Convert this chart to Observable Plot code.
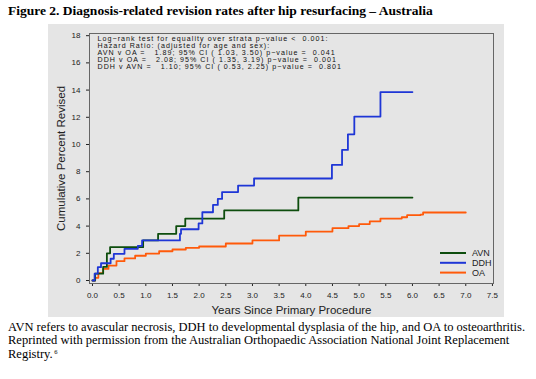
<!DOCTYPE html>
<html><head><meta charset="utf-8">
<script src="https://cdn.jsdelivr.net/npm/d3@7"></script>
<script src="https://cdn.jsdelivr.net/npm/@observablehq/plot@0.6"></script>
<style>
body{margin:0;background:#fff;}
#wrap{position:relative;width:536px;height:379px;overflow:hidden;background:#fff;}
#title{position:absolute;left:8px;top:3px;font:bold 13.5px "Liberation Serif","Times New Roman",serif;color:#000;white-space:nowrap;}
#panel{position:absolute;left:48px;top:24px;width:456px;height:293px;background:#e5e5e5;}
#caption{position:absolute;left:8px;top:321px;width:528px;font:12.5px/13.4px "Liberation Serif","Times New Roman",serif;color:#000;}
#caption sup{font-size:6.5px;line-height:0;vertical-align:baseline;position:relative;top:-0.55em;margin-left:1.5px;}
</style></head>
<body><div id="wrap">
<div id="title">Figure 2. Diagnosis-related revision rates after hip resurfacing – Australia</div>
<div id="panel"></div>
<div id="caption">AVN refers to avascular necrosis, DDH to developmental dysplasia of the hip, and OA to osteoarthritis. Reprinted with permission from the Australian Orthopaedic Association National Joint Replacement Registry.<sup>6</sup></div>
</div>
<script>
const seriesNames = ["AVN", "DDH", "OA"];
const seriesColors = ["#0d4d0d", "#1e36d6", "#ff5a0a"];
const avnYears = [0, 0.05, 0.2, 0.27, 0.33, 0.95, 1.23, 1.57, 1.74, 2.47, 3.86, 6.0];
const avnPct   = [0, 0.5, 1.0, 2.0, 2.45, 2.95, 3.43, 4.0, 4.55, 5.15, 6.1, 6.1];
const ddhYears = [0, 0.04, 0.1, 0.16, 0.34, 0.4, 0.6, 0.85, 0.93, 1.64, 1.66, 1.99, 2.06, 2.26, 2.35, 2.43, 2.73, 3.03, 4.49, 4.68, 4.79, 4.91, 5.4, 6.0];
const ddhPct   = [0, 0.5, 0.98, 1.27, 1.6, 1.96, 2.33, 2.55, 2.95, 3.43, 3.77, 4.2, 5.02, 5.56, 6.0, 6.5, 6.98, 7.5, 8.5, 9.6, 10.75, 12.05, 13.85, 13.85];
const oaYears  = [0, 0.05, 0.11, 0.2, 0.3, 0.45, 0.6, 0.8, 1.0, 1.25, 1.5, 1.75, 2.0, 2.5, 3.0, 3.5, 4.0, 4.5, 4.8, 5.0, 5.2, 5.4, 5.8, 5.9, 6.15, 6.2, 7.0];
const oaPct    = [0, 0.2, 0.55, 0.85, 1.1, 1.42, 1.62, 1.82, 1.98, 2.15, 2.28, 2.4, 2.5, 2.72, 2.95, 3.3, 3.6, 3.85, 4.0, 4.15, 4.35, 4.55, 4.65, 4.8, 4.85, 5.0, 5.0];
const xTicks = [0, 0.5, 1, 1.5, 2, 2.5, 3, 3.5, 4, 4.5, 5, 5.5, 6, 6.5, 7, 7.5];
const yTicks = [0, 2, 4, 6, 8, 10, 12, 14, 16, 18];
const statLines = [
  "Log\u2212rank test for equality over strata p\u2212value <  0.001:",
  "Hazard Ratio: (adjusted for age and sex):",
  "AVN v OA =   1.89; 95% CI ( 1.03, 3.50) p\u2212value =  0.041",
  "DDH v OA =   2.08; 95% CI ( 1.35, 3.19) p\u2212value =  0.001",
  "DDH v AVN =   1.10; 95% CI ( 0.53, 2.25) p\u2212value =  0.801"
];

const toRows = (name, xs, ys) => xs.map((t, i) => ({series: name, t, v: ys[i]}));
const avn = toRows("AVN", avnYears, avnPct);
const ddh = toRows("DDH", ddhYears, ddhPct);
const oa = toRows("OA", oaYears, oaPct);

const font = '"Liberation Sans", Arial, sans-serif';
const chart = Plot.plot({
  width: 456, height: 293,
  marginLeft: 41, marginRight: 11, marginTop: 9, marginBottom: 34,
  style: {background: "transparent", fontFamily: font, fontSize: "8px", color: "#222"},
  x: {domain: [-0.056, 7.52], ticks: xTicks, tickFormat: d3.format(".1f"), tickSize: 3, label: "Years Since Primary Procedure", labelAnchor: "center", labelArrow: "none", labelOffset: 30},
  y: {domain: [-0.22, 18.16], ticks: yTicks, tickSize: 3, label: "Cumulative Percent Revised", labelAnchor: "center", labelArrow: "none", labelOffset: 33},
  color: {domain: seriesNames, range: seriesColors},
  marks: [
    Plot.frame({stroke: "#666", strokeWidth: 1}),
    Plot.line(oa, {x: "t", y: "v", stroke: "series", strokeWidth: 1.8, curve: "step-after"}),
    Plot.line(avn, {x: "t", y: "v", stroke: "series", strokeWidth: 1.8, curve: "step-after"}),
    Plot.line(ddh, {x: "t", y: "v", stroke: "series", strokeWidth: 1.8, curve: "step-after"}),
    Plot.text(statLines, {frameAnchor: "top-left", dx: 4, lineAnchor: "top", textAnchor: "start", fontSize: 7.1, fill: "#111"})
  ]
});
chart.style.position = "absolute";
chart.style.left = "0px"; chart.style.top = "0px";
document.getElementById("panel").appendChild(chart);

const svg = d3.select(chart);
svg.selectAll("[aria-label='x-axis label'] text, [aria-label='y-axis label'] text").style("font-size", "11.5px");
// stack the statistics lines tightly, as in the SAS output
svg.selectAll("[aria-label='text'] text").each(function(d, i) {
  d3.select(this).attr("dy", null).attr("transform", null)
    .attr("x", 45).attr("y", 14.5 + i * 7.0).attr("dominant-baseline", "middle")
    .style("white-space", "pre").style("letter-spacing", "1.05px");
});

// legend inside plot (bottom-right), using the color scale
const cs = chart.scale("color");
const lg = svg.append("g").attr("font-family", font).attr("font-size", 9).attr("text-anchor", "start");
seriesNames.forEach((s, i) => {
  const y = 229 + i * 9.8;
  lg.append("line").attr("x1", 392).attr("x2", 418).attr("y1", y).attr("y2", y).attr("stroke", cs.apply(s)).attr("stroke-width", 2);
  lg.append("text").attr("x", 424).attr("y", y).attr("dy", "0.35em").attr("fill", "#222").text(s);
});
</script>
</body></html>
